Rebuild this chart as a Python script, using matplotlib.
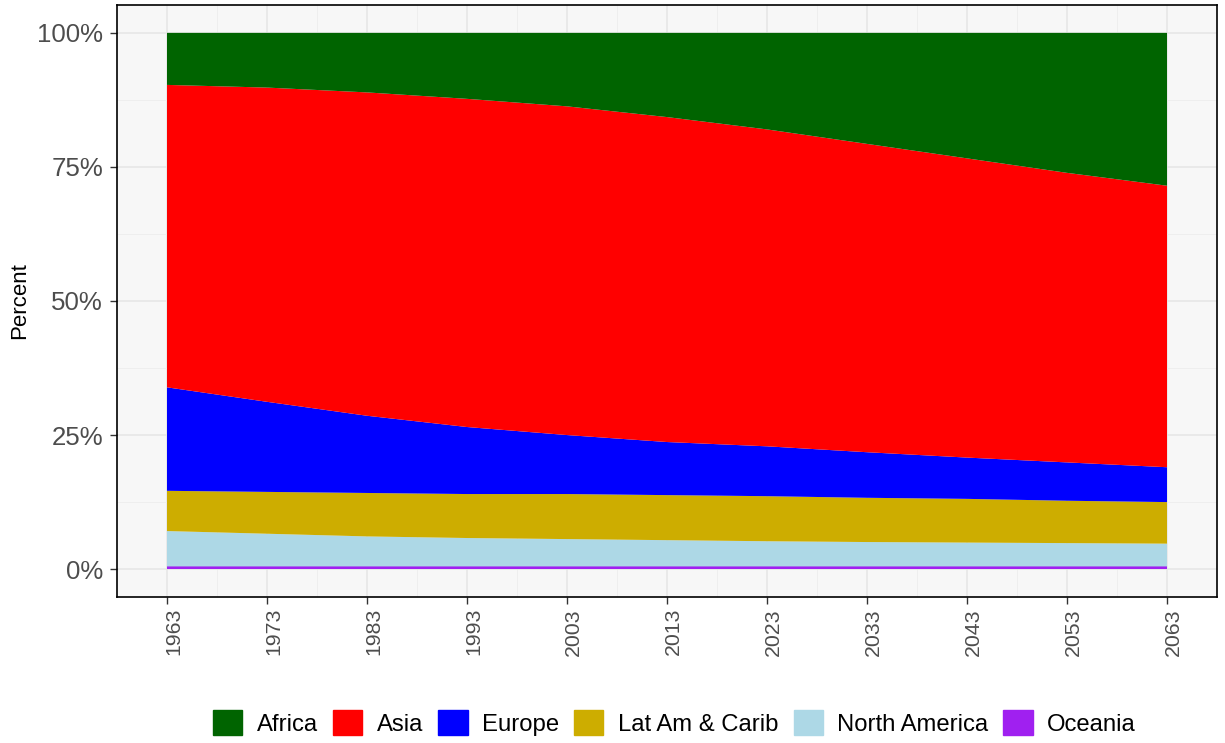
import numpy as np
import matplotlib
matplotlib.use("Agg")
import matplotlib.pyplot as plt
import matplotlib.transforms as mtransforms
from matplotlib.ticker import FuncFormatter

plt.rcParams['font.family'] = ['Liberation Sans', 'DejaVu Sans']

# share of world population (%)
years = [1963, 1973, 1983, 1993, 2003, 2013, 2023, 2033, 2043, 2053, 2063]
oceania = [0.5, 0.5, 0.5, 0.5, 0.5, 0.5, 0.5, 0.5, 0.5, 0.5, 0.5]
north_america = [6.6, 6.1, 5.6, 5.3, 5.1, 4.9, 4.7, 4.55, 4.45, 4.35, 4.25]
latam = [7.5, 7.8, 8.1, 8.2, 8.4, 8.4, 8.4, 8.25, 8.15, 7.9, 7.75]
europe = [19.3, 16.8, 14.4, 12.5, 11.0, 9.9, 9.3, 8.5, 7.7, 7.15, 6.5]
asia = [56.4, 58.6, 60.3, 61.2, 61.3, 60.6, 59.1, 57.5, 55.8, 54.0, 52.5]
africa = [9.7, 10.2, 11.1, 12.3, 13.7, 15.7, 18.0, 20.7, 23.4, 26.1, 28.5]

regions = ["Africa", "Asia", "Europe", "Lat Am & Carib", "North America", "Oceania"]
colors = ["#006400", "#FF0000", "#0000FF", "#CDAD00", "#ADD8E6", "#A020F0"]

fig = plt.figure(figsize=(12.25, 7.43), dpi=100)
ax = fig.add_axes([117/1225, 1 - 597/743, 1100/1225, 592/743])
ax.set_facecolor("#F7F7F7")

# bottom to top: Oceania ... Africa
series = [oceania, north_america, latam, europe, asia, africa]
ax.stackplot(years, *series, colors=colors[::-1], linewidth=0, zorder=2)

ax.set_xlim(1958, 2068)
ax.set_ylim(-5.2, 105.2)
ax.set_xticks(years)
ax.set_xticks([y + 5 for y in years[:-1]], minor=True)
ax.set_yticks([0, 25, 50, 75, 100])
ax.set_yticks([12.5, 37.5, 62.5, 87.5], minor=True)
ax.yaxis.set_major_formatter(FuncFormatter(lambda v, p: f"{v:.0f}%"))

ax.grid(which="major", color="#E6E6E6", linewidth=1.1, zorder=0)
ax.grid(which="minor", color="#EDEDED", linewidth=0.6, zorder=0)
ax.set_axisbelow(True)

for s in ax.spines.values():
    s.set_color("black")
    s.set_linewidth(1.2)

ax.tick_params(axis="both", which="major", direction="out", length=5,
               color="#333333", width=1)
ax.tick_params(axis="both", which="minor", length=0)
ax.tick_params(axis="y", labelsize=18.6, labelcolor="#4D4D4D", pad=5)
ax.tick_params(axis="x", labelsize=15.3, labelcolor="#4D4D4D", pad=3)
shift = mtransforms.ScaledTranslation(-3/100, 0, fig.dpi_scale_trans)
for lab in ax.get_xticklabels():
    lab.set_rotation(90)
    lab.set_va("top")
    lab.set_ha("left")
    lab.set_transform(lab.get_transform() + shift)

ax.set_ylabel("Percent", fontsize=16, labelpad=5)

handles = [plt.Rectangle((0, 0), 1, 1, color=c) for c in colors]
fig.legend(handles, regions, loc="center", bbox_to_anchor=(0.5506, 0.027),
           ncol=6, frameon=False, fontsize=17.2, handlelength=1.22,
           handleheight=1.26, handletextpad=0.6, columnspacing=0.64,
           borderpad=0)

fig.savefig("out.png", dpi=100)
